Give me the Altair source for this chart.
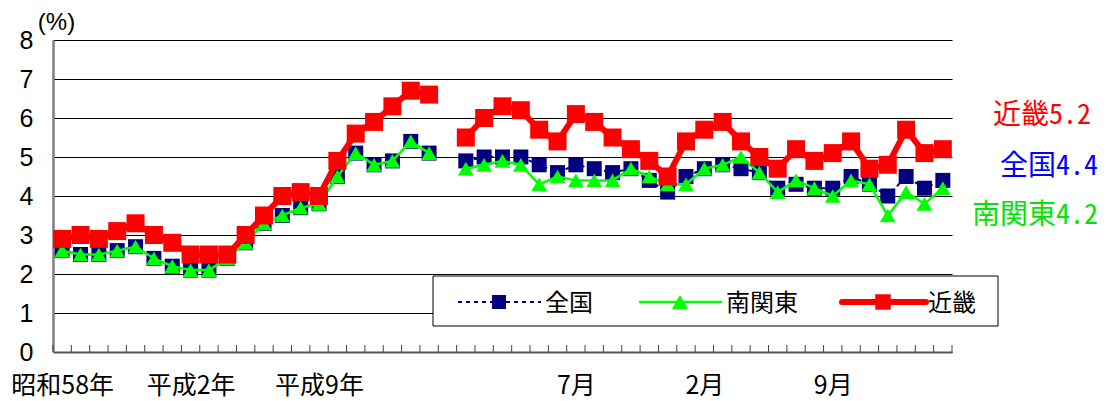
import altair as alt
import pandas as pd

# ---------------- data ----------------
years = ["昭和58年", "昭和59年", "昭和60年", "昭和61年", "昭和62年", "昭和63年", "平成元年",
         "平成2年", "平成3年", "平成4年", "平成5年", "平成6年", "平成7年", "平成8年", "平成9年",
         "平成10年", "平成11年", "平成12年", "平成13年", "平成14年", "平成15年"]
months = ["1月", "2月", "3月", "4月", "5月", "6月", "7月", "8月", "9月", "10月", "11月", "12月",
          "1月", "2月", "3月", "4月", "5月", "6月", "7月", "8月", "9月", "10月", "11月", "12月",
          "1月", "2月", "3月"]
year_labels_shown = [0, 7, 14]
month_labels_shown = [6, 13, 20]

series_names = ["全国", "南関東", "近畿"]

zenkoku_annual = [2.6, 2.5, 2.5, 2.6, 2.7, 2.4, 2.2, 2.1, 2.1, 2.4, 2.8, 3.3, 3.5, 3.7, 3.8,
                  4.5, 5.1, 4.8, 4.9, 5.4, 5.1]
minami_annual = [2.6, 2.5, 2.5, 2.6, 2.7, 2.4, 2.2, 2.1, 2.1, 2.4, 2.8, 3.3, 3.5, 3.7, 3.8,
                 4.5, 5.1, 4.8, 4.9, 5.4, 5.1]
kinki_annual = [2.9, 3.0, 2.9, 3.1, 3.3, 3.0, 2.8, 2.5, 2.5, 2.5, 3.0, 3.5, 4.0, 4.1, 4.0,
                4.9, 5.6, 5.9, 6.3, 6.7, 6.6]

zenkoku_monthly = [4.9, 5.0, 5.0, 5.0, 4.8, 4.6, 4.8, 4.7, 4.6, 4.7, 4.4, 4.1, 4.5, 4.7, 4.8,
                   4.7, 4.6, 4.2, 4.3, 4.2, 4.2, 4.5, 4.3, 4.0, 4.5, 4.2, 4.4]
minami_monthly = [4.7, 4.8, 4.9, 4.8, 4.3, 4.5, 4.4, 4.4, 4.4, 4.7, 4.5, 4.3, 4.3, 4.7, 4.8,
                  5.0, 4.6, 4.1, 4.4, 4.2, 4.0, 4.4, 4.3, 3.5, 4.1, 3.8, 4.2]
kinki_monthly = [5.5, 6.0, 6.3, 6.2, 5.7, 5.4, 6.1, 5.9, 5.5, 5.2, 4.9, 4.5, 5.4, 5.7, 5.9,
                 5.4, 5.0, 4.7, 5.2, 4.9, 5.1, 5.4, 4.7, 4.8, 5.7, 5.1, 5.2]

y_ticks = [0, 1, 2, 3, 4, 5, 6, 7, 8]

# ---------------- build table ----------------
month_start = len(years) + 1          # one empty slot between annual and monthly data
n_cats = month_start + len(months)

rows = []
for name, ann, mon in zip(series_names,
                          [zenkoku_annual, minami_annual, kinki_annual],
                          [zenkoku_monthly, minami_monthly, kinki_monthly]):
    for i, v in enumerate(ann):
        rows.append(dict(series=name, seg="annual", pos=i + 0.5, value=v, label=years[i]))
    for j, v in enumerate(mon):
        rows.append(dict(series=name, seg="monthly", pos=month_start + j + 0.5, value=v,
                         label=months[j]))
df = pd.DataFrame(rows)

shown = [(i + 0.5, years[i]) for i in year_labels_shown] + \
        [(month_start + j + 0.5, months[j]) for j in month_labels_shown]
label_expr = "".join(f"datum.value == {p} ? '{t}' : " for p, t in shown) + "''"

ticks_df = pd.DataFrame({"b": list(range(n_cats + 1))})

# ---------------- styles ----------------
W, H = 899, 312
styles = {
    "全国": dict(color="#000080", width=2, dash=[4, 4], cap="butt", shape="square", size=225,
               lsize=196, text_color="#0000FF"),
    "南関東": dict(color="#00FF00", width=2.5, dash=None, cap="round", shape="triangle-up",
                size=250, lsize=260, text_color="#00E600"),
    "近畿": dict(color="#FF0000", width=6, dash=None, cap="round", shape="square", size=324,
               lsize=240, text_color="#FF0000"),
}

x_scale = alt.Scale(domain=[0, n_cats], nice=False, zero=False)
x_axis = alt.Axis(values=[p for p, _ in shown], labelExpr=label_expr, title=None,
                  grid=False, ticks=False, domainColor="#555555", domainWidth=2,
                  labelFont="Noto Sans CJK JP", labelFontSize=25, labelColor="black",
                  labelPadding=21, labelAngle=0)
y_scale = alt.Scale(domain=[0, 8], nice=False, zero=True)
y_axis = alt.Axis(values=y_ticks, title="(%)", titleAngle=0, titleX=3, titleY=-18,
                  titleAlign="center", titleBaseline="middle",
                  titleFont="Liberation Sans Narrow, Liberation Sans", titleFontSize=24,
                  titleFontWeight="normal", titleColor="black",
                  grid=True, gridColor="black", gridWidth=1, ticks=False,
                  domainColor="#808080", domainWidth=2.5,
                  labelFont="Liberation Sans Narrow, Liberation Sans", labelFontSize=25,
                  labelColor="black", labelPadding=20)

base = alt.Chart(df)

layers = []
# inward tick marks on the x axis
layers.append(
    alt.Chart(ticks_df).mark_rule(color="#444444", strokeWidth=1).encode(
        x=alt.X("b:Q", scale=x_scale, axis=x_axis),
        y=alt.value(H), y2=alt.value(H - 7))
)

for name in series_names:
    s = styles[name]
    sub = base.transform_filter(alt.datum.series == name)
    line_kwargs = dict(color=s["color"], strokeWidth=s["width"], strokeJoin="round",
                       strokeCap=s["cap"])
    if s["dash"]:
        line_kwargs["strokeDash"] = s["dash"]
    enc_x = alt.X("pos:Q", scale=x_scale, axis=x_axis)
    enc_y = alt.Y("value:Q", scale=y_scale, axis=y_axis)
    layers.append(sub.mark_line(**line_kwargs).encode(x=enc_x, y=enc_y, detail="seg:N"))
    layers.append(sub.mark_point(shape=s["shape"], size=s["size"], filled=True,
                                 color=s["color"], opacity=1, strokeWidth=0)
                  .encode(x=enc_x, y=enc_y))

# ---------------- legend (manual) ----------------
leg_y = 262
box = dict(x0=380, x1=945, y0=236, y1=286)
leg_line_x0 = [405, 587, 789]
leg_line_x1 = [488, 668, 873]
leg_mark_x = [446, 627, 830]
leg_text_x = [492, 673, 875]
one = pd.DataFrame({"k": [0]})
layers.append(alt.Chart(one).mark_rect(fill="white", stroke="black", strokeWidth=1).encode(
    x=alt.value(box["x0"]), x2=alt.value(box["x1"]),
    y=alt.value(box["y0"]), y2=alt.value(box["y1"])))
for k, name in enumerate(series_names):
    s = styles[name]
    d = pd.DataFrame({"name": [name]})
    rk = dict(color=s["color"], strokeWidth=s["width"], strokeCap=s["cap"])
    if s["dash"]:
        rk["strokeDash"] = s["dash"]
    layers.append(alt.Chart(d).mark_rule(**rk).encode(
        x=alt.value(leg_line_x0[k]), x2=alt.value(leg_line_x1[k]), y=alt.value(leg_y)))
    layers.append(alt.Chart(d).mark_point(shape=s["shape"], size=s["lsize"], filled=True,
                                          color=s["color"], opacity=1, strokeWidth=0).encode(
        x=alt.value(leg_mark_x[k]), y=alt.value(leg_y)))
    layers.append(alt.Chart(d).mark_text(align="left", baseline="middle", fontSize=24,
                                         font="Noto Sans CJK JP", color="black").encode(
        x=alt.value(leg_text_x[k]), y=alt.value(leg_y + 2), text="name:N"))

# ---------------- latest-value annotations ----------------
ann_names = ["近畿", "全国", "南関東"]
last_vals = {"全国": zenkoku_monthly[-1], "南関東": minami_monthly[-1], "近畿": kinki_monthly[-1]}
ann_y = [76, 127, 176]
ann_right = [1038, 1045, 1045]
for k, name in enumerate(ann_names):
    d = pd.DataFrame({"t": [f"{name}{last_vals[name]}"]})
    layers.append(alt.Chart(d).mark_text(
        align="right", baseline="middle", fontSize=28,
        font="Noto Sans Mono CJK JP, Noto Sans CJK JP", color=styles[name]["text_color"]).encode(
        x=alt.value(ann_right[k]), y=alt.value(ann_y[k]), text="t:N"))

chart = alt.layer(*layers).properties(
    width=W, height=H,
    autosize=alt.AutoSizeParams(type="none"),
    padding={"left": 45, "top": 32, "right": 146, "bottom": 49},
    background="white",
).configure_view(stroke=None)

chart.save("out.html", embed_options={"renderer": "svg", "actions": False})
